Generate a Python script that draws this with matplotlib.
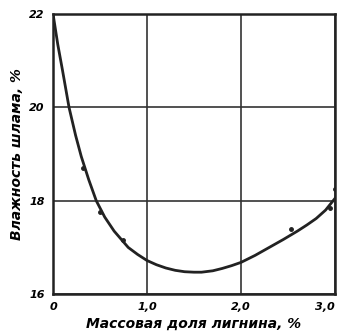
import matplotlib.pyplot as plt

# fitted curve
curve_x = [0, 0.05, 0.1, 0.17, 0.24, 0.3, 0.38, 0.46, 0.55, 0.65, 0.8, 0.9, 1.0,
           1.1, 1.2, 1.3, 1.4, 1.5, 1.58, 1.7, 1.8, 1.9, 2.0, 2.15, 2.3, 2.45,
           2.6, 2.7, 2.8, 2.9, 3.0]
curve_y = [22.0, 21.35, 20.8, 20.0, 19.4, 18.95, 18.45, 18.0, 17.65, 17.35, 17.0,
           16.85, 16.72, 16.63, 16.56, 16.51, 16.48, 16.47, 16.47, 16.5, 16.55,
           16.61, 16.68, 16.83, 17.0, 17.17, 17.35, 17.48, 17.62, 17.8, 18.05]

# experimental points
pts_x = [0.32, 0.5, 0.74, 2.53, 2.95, 3.0]
pts_y = [18.7, 17.77, 17.15, 17.4, 17.85, 18.25]

xticks = [0, 1.0, 2.0, 3.0]
xlabels = ['0', '1,0', '2,0', '3,0']
yticks = [16, 18, 20, 22]
ylabels = ['16', '18', '20', '22']

font = ['Liberation Sans Narrow', 'DejaVu Sans']

fig = plt.figure(figsize=(3.38, 3.35), dpi=100)
ax = fig.add_axes([0.157, 0.122, 0.834, 0.836])

ax.plot(curve_x, curve_y, color='#222222', lw=2.0, solid_joinstyle='round')
ax.plot(pts_x, pts_y, 'o', color='#222222', ms=2.5)

ax.set_xlim(0, 3.0)
ax.set_ylim(16, 22)
ax.set_xticks(xticks)
ax.set_yticks(yticks)
ax.set_xticklabels(xlabels, family=font, style='italic', weight='bold', fontsize=8)
ax.set_yticklabels(ylabels, family=font, style='italic', weight='bold', fontsize=8)
ax.get_xticklabels()[-1].set_ha('right')
ax.tick_params(length=0, pad=6)
ax.grid(True, color='#333333', lw=1.2)

for s in ax.spines.values():
    s.set_linewidth(1.8)
    s.set_color('#222222')

ax.set_xlabel('Массовая доля лигнина, %', family=font, style='italic',
              weight='bold', fontsize=10, labelpad=3)
ax.set_ylabel('Влажность шлама, %', family=font, style='italic',
              weight='bold', fontsize=10, labelpad=4)

fig.savefig('out.png', dpi=100)
